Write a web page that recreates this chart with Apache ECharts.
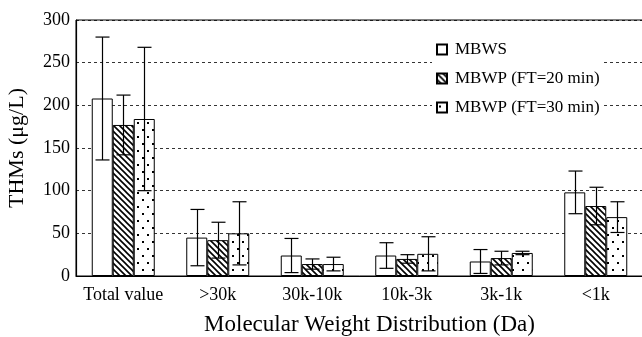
<!DOCTYPE html>
<html>
<head>
<meta charset="utf-8">
<script src="https://cdn.jsdelivr.net/npm/echarts@6/dist/echarts.min.js"></script>
<style>
  html, body { margin: 0; padding: 0; background: #fff; }
  #myCharts { width: 642px; height: 337px; }
</style>
</head>
<body>
<div id="myCharts"></div>
<script>
let categories = ["Total value", ">30k", "30k-10k", "10k-3k", "3k-1k", "<1k"];
let seriesNames = ["MBWS", "MBWP (FT=20 min)", "MBWP (FT=30 min)"];
let mbws = [208, 45, 24, 24, 17, 98];
let mbwsErr = [72, 33, 20, 15, 14, 25];
let mbwp20 = [177, 42, 14, 20, 21, 82];
let mbwp20Err = [35, 21, 6, 5, 8, 22];
let mbwp30 = [184, 50, 14, 26, 27, 69];
let mbwp30Err = [84, 37, 8, 20, 2, 18];

const font = "Liberation Serif";
const barW = 21;

// fill patterns drawn on small canvases
function hatchPattern() {
  let c = document.createElement("canvas");
  c.width = 6; c.height = 6;
  let g = c.getContext("2d");
  g.fillStyle = "#fff";
  g.fillRect(0, 0, 6, 6);
  g.strokeStyle = "#000";
  g.lineWidth = 1.6;
  g.beginPath();
  g.moveTo(-1, -1); g.lineTo(7, 7);
  g.moveTo(-4, 2); g.lineTo(4, 10);
  g.moveTo(2, -4); g.lineTo(10, 4);
  g.stroke();
  return { image: c, repeat: "repeat" };
}
function dotPattern() {
  let c = document.createElement("canvas");
  c.width = 10; c.height = 14;
  let g = c.getContext("2d");
  g.fillStyle = "#fff";
  g.fillRect(0, 0, 10, 14);
  g.fillStyle = "#000";
  g.fillRect(2, 3, 2, 2);
  g.fillRect(7, 10, 2, 2);
  return { image: c, repeat: "repeat" };
}

let values = [mbws, mbwp20, mbwp30];
let errors = [mbwsErr, mbwp20Err, mbwp30Err];
let fills = ["#fff", hatchPattern(), dotPattern()];

let series = [];
values.forEach(function (vals, i) {
  series.push({
    name: seriesNames[i],
    type: "bar",
    barWidth: barW,
    barGap: "0%",
    itemStyle: { color: fills[i], borderColor: "#000", borderWidth: 1 },
    data: vals,
  });
});
values.forEach(function (vals, i) {
  series.push({
    type: "custom",
    z: 10,
    data: vals.map(function (v, k) { return [k, v, errors[i][k]]; }),
    encode: { x: 0, y: 1 },
    renderItem: function (params, api) {
      let k = api.value(0);
      let v = api.value(1);
      let e = api.value(2);
      let top = api.coord([k, v + e]);
      let bot = api.coord([k, Math.max(v - e, 0)]);
      let x = Math.round(top[0] + (i - 1) * barW) + 0.5;
      let cap = 7;
      let style = { stroke: "#000", lineWidth: 1.2 };
      return {
        type: "group",
        children: [
          { type: "line", shape: { x1: x, y1: top[1], x2: x, y2: bot[1] }, style: style },
          { type: "line", shape: { x1: x - cap, y1: top[1], x2: x + cap, y2: top[1] }, style: style },
          { type: "line", shape: { x1: x - cap, y1: bot[1], x2: x + cap, y2: bot[1] }, style: style },
        ],
      };
    },
  });
});

let option = {
  animation: false,
  backgroundColor: "#fff",
  textStyle: { fontFamily: font },
  grid: {
    left: 76, right: -1, top: 20, bottom: 61,
    outerBoundsMode: "none",
    show: true, borderColor: "#000", borderWidth: 1,
  },
  legend: {
    data: seriesNames,
    orient: "vertical",
    left: 432, top: 39,
    itemWidth: 10, itemHeight: 10, itemGap: 12,
    icon: "rect",
    backgroundColor: "#fff",
    padding: [2, 4, 2, 4],
    textStyle: { fontFamily: font, fontSize: 17, color: "#000", padding: [0, 0, 0, 3] },
  },
  xAxis: {
    type: "category",
    data: categories,
    name: "Molecular Weight Distribution (Da)",
    nameLocation: "middle",
    nameGap: 37,
    nameTextStyle: { fontFamily: font, fontSize: 23, color: "#000", padding: [0, 0, 0, 20] },
    axisLine: { lineStyle: { color: "#000", width: 1.2 } },
    axisTick: { inside: true, length: 6, lineStyle: { color: "#000" } },
    axisLabel: { interval: 0, fontFamily: font, fontSize: 18, color: "#000", margin: 10 },
  },
  yAxis: {
    type: "value",
    min: 0, max: 300, interval: 50,
    name: "THMs (μg/L)",
    nameLocation: "middle",
    nameGap: 48,
    nameTextStyle: { fontFamily: font, fontSize: 22, color: "#000" },
    axisLine: { show: true, lineStyle: { color: "#000", width: 1.2 } },
    axisTick: { show: false },
    axisLabel: { fontFamily: font, fontSize: 18, color: "#000", margin: 6 },
    splitLine: { lineStyle: { color: "#000", type: [3, 3], width: 0.8 } },
  },
  series: series,
};

let myChart = echarts.init(document.getElementById("myCharts"));
myChart.setOption(option);
</script>
</body>
</html>
